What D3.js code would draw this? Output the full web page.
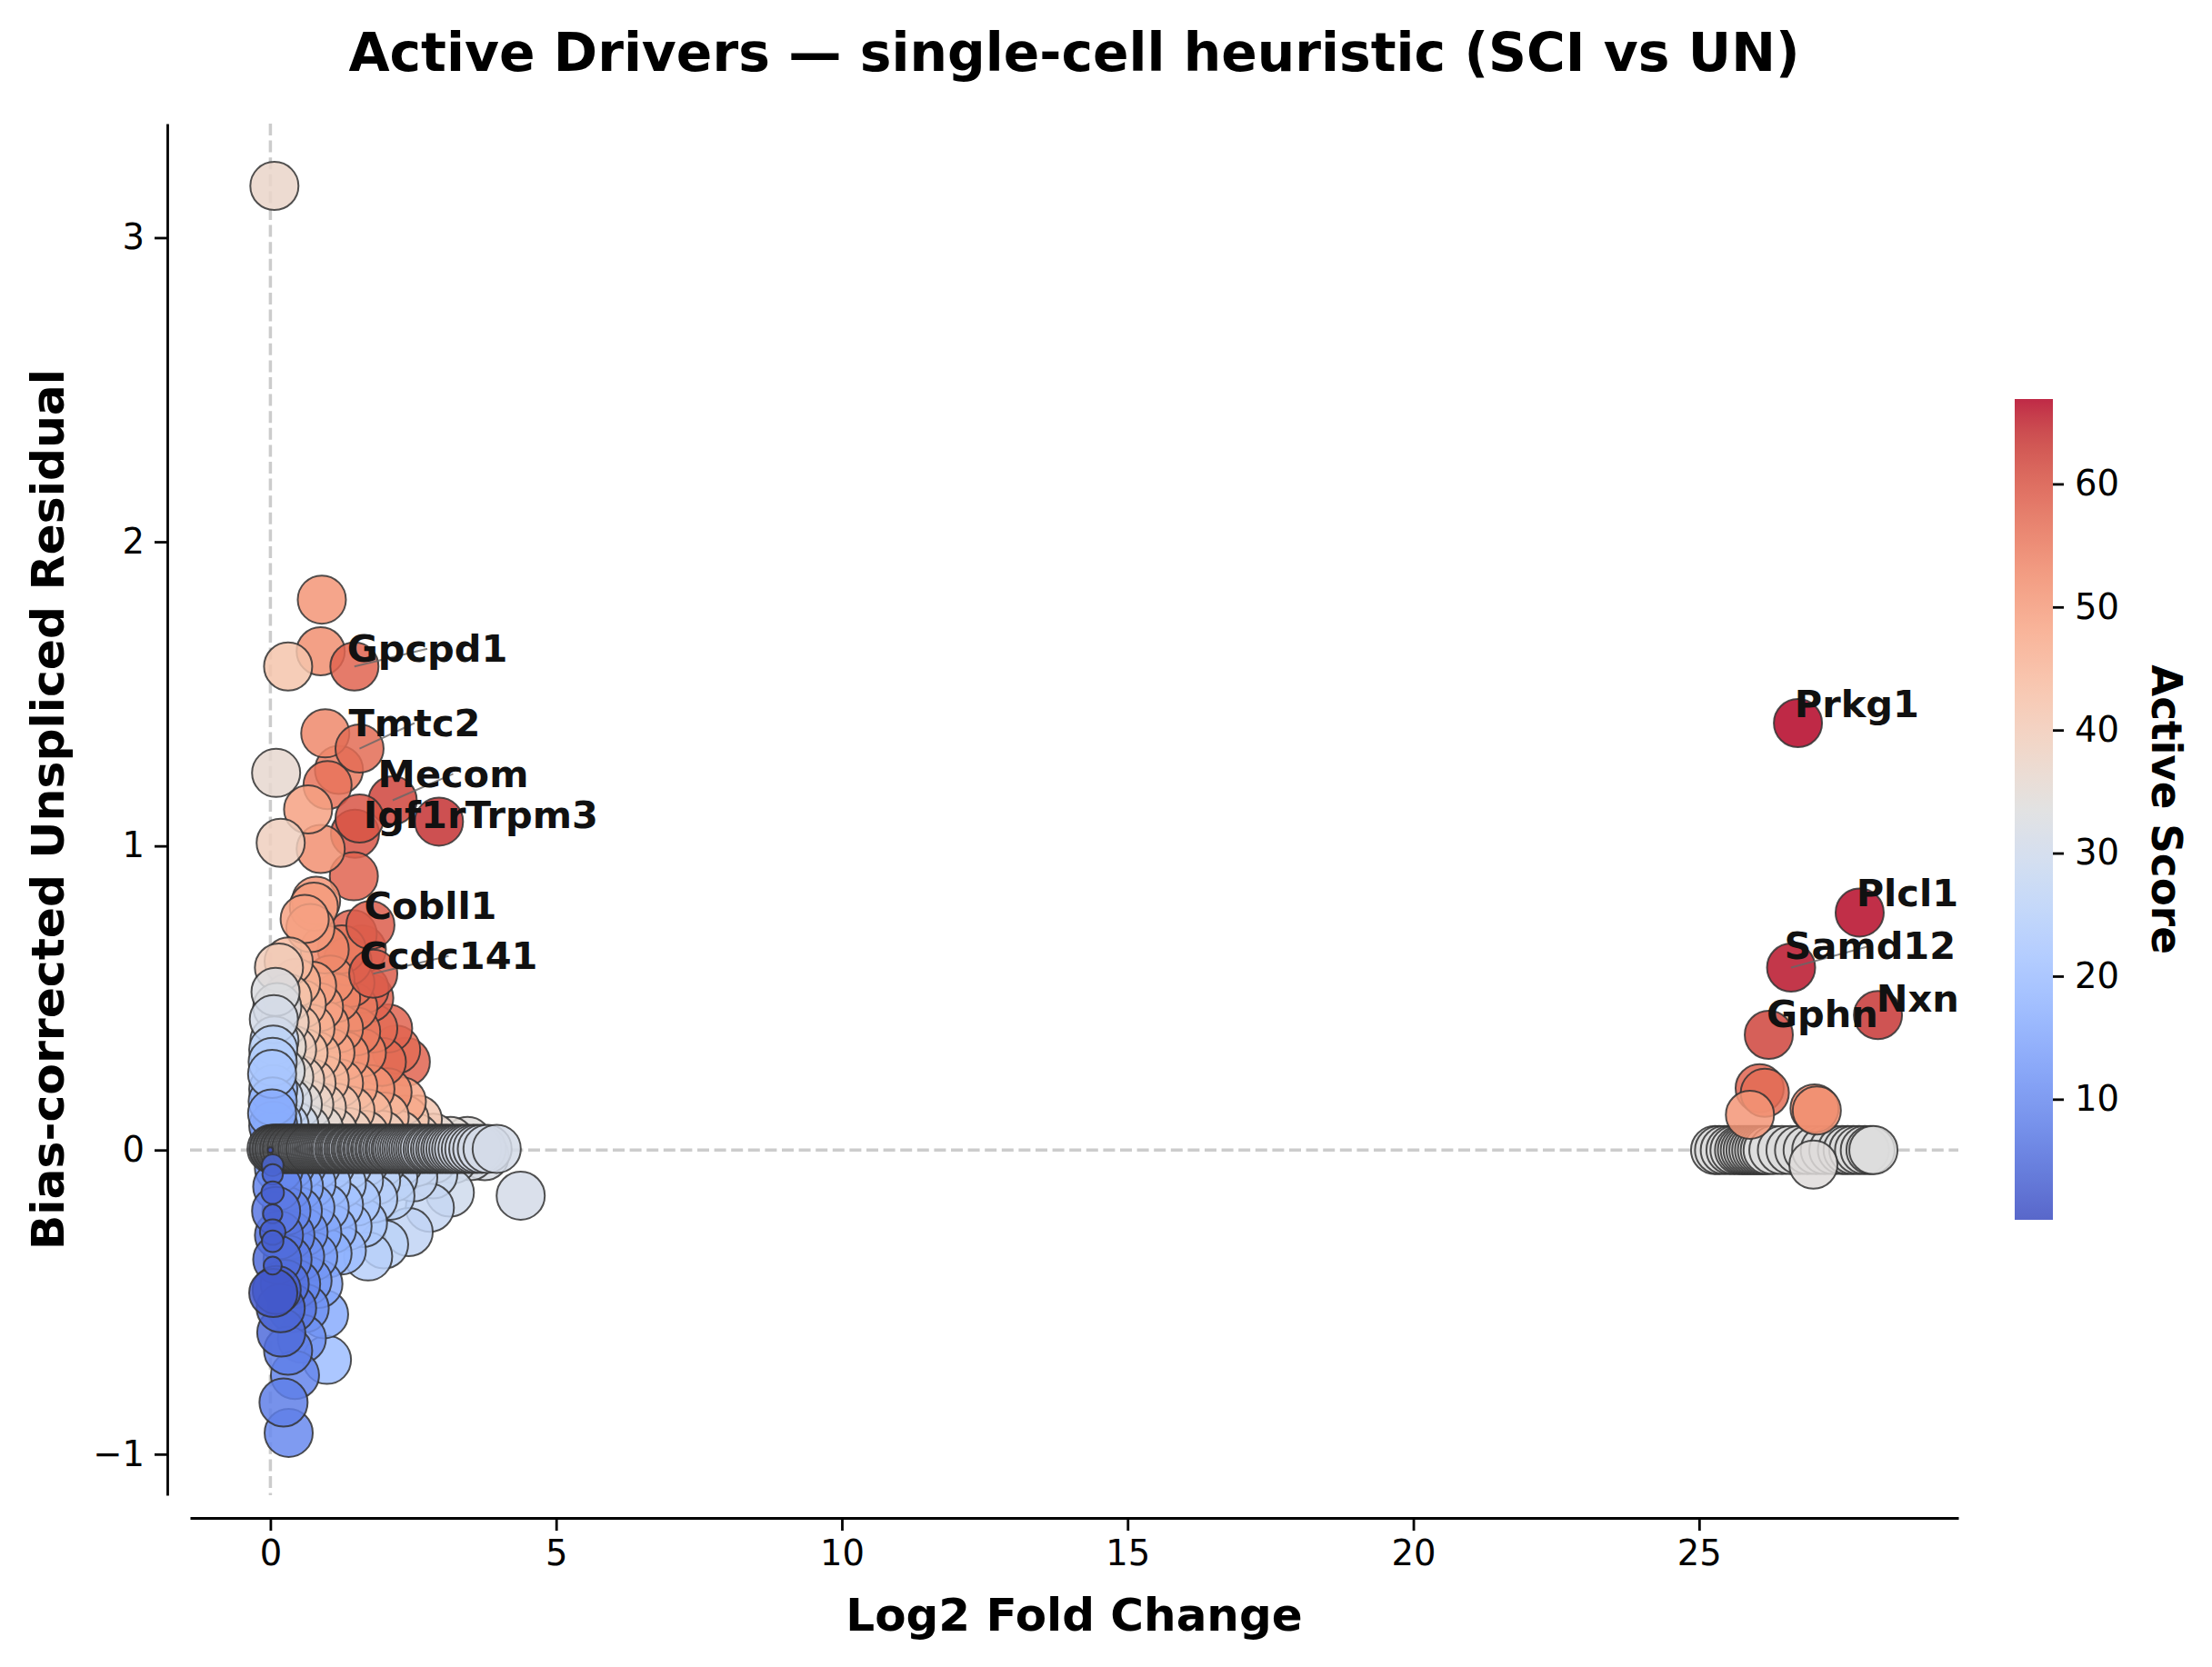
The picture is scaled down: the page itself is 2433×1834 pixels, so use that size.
<!DOCTYPE html>
<html>
<head>
<meta charset="utf-8">
<script src="https://cdn.jsdelivr.net/npm/d3@7"></script>
<style>
  body { margin: 0; background: #fff; }
  text { font-family: "DejaVu Sans", sans-serif; }
</style>
</head>
<body>
<div id="chart"></div>
<script>
// --- data ---
// each point: [log2 fold change, bias-corrected unspliced residual, active score, relative size]

// sparse points high on the left fan
const upperPoints = [
  [0.07, 3.17, 37], [0.90, 1.81, 51], [0.88, 1.64, 52], [0.31, 1.59, 42],
  [0.96, 1.37, 53], [1.20, 1.25, 55], [0.10, 1.24, 36], [1.00, 1.20, 56],
  [0.66, 1.12, 49], [1.48, 1.04, 60], [0.18, 1.01, 39], [0.88, 0.99, 52],
  [1.46, 0.90, 58], [0.80, 0.82, 51], [0.76, 0.80, 50], [0.60, 0.76, 49],
  [0.70, 0.73, 50], [1.44, 0.71, 58], [0.95, 0.66, 53], [1.25, 0.66, 55],
  [1.60, 0.66, 58], [1.35, 0.62, 56]
];

// the dense fan between 0 and 0.65
const midPoints = [
  [0.32, 0.62, 44], [0.15, 0.60, 40], [0.09, 0.52, 33], [0.12, 0.47, 33],
  [0.06, 0.43, 31], [0.07, 0.36, 27], [0.05, 0.33, 26], [0.04, 0.29, 24],
  [0.03, 0.25, 22], [0.05, 0.20, 20], [0.04, 0.16, 18], [0.03, 0.12, 16],
  [0.05, 0.08, 14], [0.08, 0.05, 13],
  [0.45, 0.55, 46], [0.73, 0.54, 49], [1.05, 0.56, 52], [1.40, 0.55, 56], [1.65, 0.53, 58],
  [0.30, 0.50, 42], [0.55, 0.48, 45], [0.85, 0.47, 49], [1.15, 0.50, 53], [1.45, 0.47, 55], [1.73, 0.50, 58],
  [0.25, 0.42, 38], [0.45, 0.40, 42], [0.70, 0.40, 46], [0.95, 0.41, 49], [1.20, 0.40, 52],
  [1.50, 0.39, 55], [1.80, 0.40, 57], [2.06, 0.40, 58],
  [0.20, 0.34, 35], [0.38, 0.33, 39], [0.58, 0.32, 42], [0.80, 0.31, 45], [1.05, 0.32, 48],
  [1.30, 0.31, 51], [1.60, 0.32, 54], [1.95, 0.29, 57], [2.20, 0.33, 57], [2.37, 0.29, 58],
  [0.18, 0.26, 32], [0.33, 0.24, 35], [0.52, 0.23, 38], [0.72, 0.22, 41], [0.95, 0.23, 44],
  [1.20, 0.22, 47], [1.45, 0.21, 49], [1.75, 0.20, 51], [2.05, 0.19, 52], [2.30, 0.16, 48],
  [0.15, 0.17, 28], [0.30, 0.16, 31], [0.48, 0.15, 34], [0.68, 0.15, 37], [0.90, 0.14, 39],
  [1.15, 0.14, 41], [1.40, 0.13, 43], [1.70, 0.12, 44], [2.00, 0.11, 44], [2.35, 0.10, 42], [2.58, 0.10, 41],
  [0.12, 0.09, 24], [0.25, 0.08, 27], [0.42, 0.08, 30], [0.62, 0.07, 33], [0.85, 0.07, 35],
  [1.10, 0.06, 37], [1.35, 0.06, 38], [1.65, 0.05, 39], [1.95, 0.05, 39], [2.25, 0.05, 38],
  [2.55, 0.04, 37], [2.85, 0.04, 36], [3.15, 0.03, 35], [3.45, 0.03, 34]
];

// the fan below zero
const lowerPoints = [
  [0.15, -0.06, 12], [0.35, -0.05, 16], [0.55, -0.05, 19], [0.80, -0.05, 22], [1.05, -0.05, 24],
  [1.35, -0.05, 26], [1.65, -0.04, 27], [1.95, -0.04, 28], [2.25, -0.04, 29], [2.55, -0.04, 30],
  [2.85, -0.03, 31], [3.20, -0.03, 31], [3.50, -0.02, 32], [3.75, -0.02, 32],
  [0.12, -0.12, 9], [0.30, -0.12, 13], [0.50, -0.12, 16], [0.72, -0.11, 19], [0.98, -0.11, 22],
  [1.25, -0.11, 24], [1.55, -0.10, 25], [1.85, -0.10, 26], [2.15, -0.09, 27], [2.50, -0.09, 28], [2.85, -0.08, 29],
  [0.10, -0.20, 7], [0.28, -0.20, 10], [0.48, -0.20, 13], [0.70, -0.19, 16], [0.95, -0.19, 19],
  [1.20, -0.18, 21], [1.50, -0.17, 23], [1.80, -0.16, 25], [2.10, -0.15, 26], [2.79, -0.19, 28],
  [3.14, -0.14, 30], [4.38, -0.15, 31],
  [0.15, -0.28, 6], [0.35, -0.28, 9], [0.58, -0.27, 12], [0.82, -0.27, 15], [1.08, -0.26, 18],
  [1.35, -0.25, 21], [1.62, -0.24, 23], [2.42, -0.27, 27],
  [0.12, -0.36, 5], [0.30, -0.36, 8], [0.52, -0.35, 11], [0.75, -0.35, 14], [1.00, -0.34, 17],
  [1.25, -0.33, 20], [1.71, -0.35, 25], [1.99, -0.31, 26],
  [0.11, -0.46, 3], [0.25, -0.44, 6], [0.45, -0.44, 9], [0.65, -0.43, 12], [0.84, -0.44, 15],
  [0.05, -0.47, 2], [0.18, -0.52, 4], [0.38, -0.52, 7], [0.60, -0.52, 11], [0.94, -0.54, 16],
  [0.19, -0.60, 5], [0.31, -0.66, 8], [0.55, -0.62, 11], [0.99, -0.69, 20], [0.43, -0.74, 9],
  [0.23, -0.83, 8], [0.32, -0.93, 10]
];

// genes sitting right on residual = 0 (left block and right block)
const zeroRowLfc = [
  0.02, 0.05, 0.07, 0.10, 0.12, 0.15, 0.17, 0.20, 0.23, 0.25, 0.28, 0.30, 0.33, 0.36, 0.38,
  0.41, 0.44, 0.46, 0.49, 0.52, 0.55, 0.57, 0.60, 0.63, 0.66, 0.69, 0.71, 0.74, 0.77, 0.80,
  0.83, 0.86, 0.89, 0.92, 0.95, 0.98, 1.01, 1.04, 1.07, 1.10, 1.13, 1.16, 1.20, 1.23, 1.26,
  1.29, 1.32, 1.36, 1.39, 1.42, 1.45, 1.49, 1.52, 1.55, 1.59, 1.62, 1.65, 1.69, 1.72, 1.76,
  1.79, 1.83, 1.86, 1.90, 1.93, 1.97, 2.00, 2.04, 2.08, 2.11, 2.15, 2.19, 2.22, 2.26, 2.30,
  2.34, 2.38, 2.42, 2.46, 2.50, 2.54, 2.58, 2.62, 2.66, 2.70, 2.75, 2.79, 2.83, 2.88, 2.92,
  2.97, 3.01, 3.06, 3.10, 3.15, 3.20, 3.25, 3.30, 3.36, 3.42, 3.48, 3.55, 3.62, 3.70, 3.80, 3.96
];
const zeroRowScore = 31;
const rightRowLfc = [
  25.28, 25.35, 25.45, 25.55, 25.62, 25.70, 25.75, 25.80, 25.85, 25.90, 25.95, 26.00, 26.05,
  26.10, 26.15, 26.20, 26.30, 26.45, 26.60, 26.75, 26.90, 27.05, 27.20, 27.35, 27.50, 27.60,
  27.70, 27.80, 27.90, 28.00, 28.05
];
const rightRowScore = 33.5;

// right block, off the zero line
const rightPoints = [
  [26.06, 0.203, 58], [26.15, 0.188, 57], [25.89, 0.116, 51], [27.02, 0.137, 53],
  [27.06, 0.130, 52], [27.00, -0.048, 34]
];

// small markers near lfc = 0
const smallPoints = [
  [0.04, -0.05, 4, 0.2], [0.04, -0.08, 4, 0.18], [0.04, -0.14, 3, 0.22], [0.04, -0.21, 3, 0.16],
  [0.04, -0.27, 3, 0.28], [0.04, -0.30, 3, 0.2], [0.04, -0.38, 3, 0.14], [0.00, 0.00, 0.2, 0.012]
];

// named drivers: gene, lfc, residual, score
const labeledPoints = [
  ["Gpcpd1", 1.47, 1.59, 58], ["Tmtc2", 1.56, 1.32, 57], ["Mecom", 2.14, 1.15, 62],
  ["Igf1r", 1.56, 1.09, 60], ["Trpm3", 2.95, 1.08, 64], ["Cobll1", 1.75, 0.74, 59],
  ["Ccdc141", 1.80, 0.58, 59], ["Prkg1", 26.73, 1.404, 66.9], ["Plcl1", 27.81, 0.781, 66.5],
  ["Samd12", 26.61, 0.60, 66], ["Nxn", 28.13, 0.444, 63.5], ["Gphn", 26.22, 0.379, 62]
];
// where the label text sits (left edge, middle), in data units
const labelAt = [
  [1.34, 1.648], [1.37, 1.404], [1.88, 1.237], [1.63, 1.103], [3.41, 1.103], [1.64, 0.802],
  [1.56, 0.638], [26.67, 1.466], [27.75, 0.846], [26.49, 0.671], [28.10, 0.498], [26.18, 0.447]
];
const leaderGenes = ["Gpcpd1", "Tmtc2", "Mecom", "Ccdc141", "Samd12"];

const xTicks = [0, 5, 10, 15, 20, 25];
const yTicks = [-1, 0, 1, 2, 3];
const cbarTicks = [10, 20, 30, 40, 50, 60];

// matplotlib coolwarm
const coolwarm = ["#3b4cc0", "#445acc", "#4d68d7", "#5775e1", "#6282ea", "#6c8ef1", "#779af7",
  "#82a5fb", "#8db0fe", "#98b9ff", "#a3c2ff", "#aec9fd", "#b8d0f9", "#c2d5f4", "#ccd9ee",
  "#d5dbe6", "#dddddd", "#e5d8d1", "#ecd3c5", "#f1ccb9", "#f5c4ad", "#f7bba0", "#f7b194",
  "#f7a687", "#f49a7b", "#f18d6f", "#ec7f63", "#e57058", "#de604d", "#d55042", "#cb3e38",
  "#c0282f", "#b40426"];

// --- build the point table ---
const fan = []
  .concat(upperPoints, midPoints, lowerPoints)
  .map(p => ({ lfc: p[0], res: p[1], score: p[2], size: 1 }));
fan.sort((a, b) => b.lfc - a.lfc);

const points = [].concat(
  fan,
  zeroRowLfc.map(v => ({ lfc: v, res: 0.004, score: zeroRowScore, size: 1 })),
  rightRowLfc.map(v => ({ lfc: v, res: 0.0, score: rightRowScore, size: 1 })),
  rightPoints.map(p => ({ lfc: p[0], res: p[1], score: p[2], size: 1 })),
  smallPoints.map(p => ({ lfc: p[0], res: p[1], score: p[2], size: p[3] })),
  labeledPoints.map(p => ({ gene: p[0], lfc: p[1], res: p[2], score: p[3], size: 1 }))
);

// --- layout ---
const W = 2433, H = 1834;
const box = { left: 209, right: 2154, top: 136, bottom: 1645 };
const offset = 25;

const svg = d3.select("#chart").append("svg")
  .attr("width", W).attr("height", H)
  .style("background", "#fff");

// matplotlib-style 5% margins around the data
const xExt = d3.extent(points, d => d.lfc);
const yExt = d3.extent(points, d => d.res);
const xPad = (xExt[1] - xExt[0]) * 0.05;
const yPad = (yExt[1] - yExt[0]) * 0.05;

const x = d3.scaleLinear()
  .domain([xExt[0] - xPad, xExt[1] + xPad])
  .range([box.left, box.right]);
const y = d3.scaleLinear()
  .domain([yExt[0] - yPad, yExt[1] + yPad])
  .range([box.bottom, box.top]);
const r = d3.scaleSqrt().domain([0, 1]).range([0, 26.5]);

const scoreExt = d3.extent(points, d => d.score);
const color = d3.scaleSequential(d3.piecewise(d3.interpolateRgb, coolwarm))
  .domain(scoreExt);

// reference lines
svg.append("line")
  .attr("x1", x(0)).attr("x2", x(0))
  .attr("y1", box.top).attr("y2", box.bottom)
  .attr("stroke", "#cccccc").attr("stroke-width", 3.5)
  .attr("stroke-dasharray", "13,5.6");
svg.append("line")
  .attr("x1", box.left).attr("x2", box.right)
  .attr("y1", y(0)).attr("y2", y(0))
  .attr("stroke", "#cccccc").attr("stroke-width", 3.5)
  .attr("stroke-dasharray", "13,5.6");

// points
svg.append("g")
  .selectAll("circle")
  .data(points)
  .join("circle")
    .attr("cx", d => x(d.lfc))
    .attr("cy", d => y(d.res))
    .attr("r", d => r(d.size))
    .attr("fill", d => color(d.score))
    .attr("fill-opacity", 0.85)
    .attr("stroke", "#333")
    .attr("stroke-opacity", 0.85)
    .attr("stroke-width", 2);

// labels with leader lines
const labels = labeledPoints.map((p, i) => ({
  gene: p[0], lfc: p[1], res: p[2], lx: labelAt[i][0], ly: labelAt[i][1]
}));
const labelFont = 41.5;

const labelG = svg.append("g");
labels.forEach(d => {
  const t = labelG.append("text")
    .attr("x", x(d.lx))
    .attr("y", y(d.ly))
    .attr("dy", "0.35em")
    .attr("font-size", labelFont)
    .attr("font-weight", "bold")
    .attr("fill", "#111")
    .text(d.gene);
  if (leaderGenes.includes(d.gene)) {
    const w = t.node().getComputedTextLength();
    labelG.insert("line", "text")
      .attr("x1", x(d.lfc)).attr("y1", y(d.res))
      .attr("x2", x(d.lx) + w / 2).attr("y2", y(d.ly))
      .attr("stroke", "#666").attr("stroke-opacity", 0.8)
      .attr("stroke-width", 2);
  }
});

// axes (offset spines)
const tickFont = 38.5;
const minus = d => (d < 0 ? "\u2212" + Math.abs(d) : String(d));

const xAxis = svg.append("g")
  .attr("transform", `translate(0,${box.bottom + offset})`)
  .call(d3.axisBottom(x).tickValues(xTicks).tickSize(14).tickSizeOuter(0).tickPadding(11).tickFormat(minus));
const yAxis = svg.append("g")
  .attr("transform", `translate(${box.left - offset},0)`)
  .call(d3.axisLeft(y).tickValues(yTicks).tickSize(14).tickSizeOuter(0).tickPadding(11).tickFormat(minus));

[xAxis, yAxis].forEach(a => {
  a.select(".domain").attr("stroke", "#000").attr("stroke-width", 2.8);
  a.selectAll(".tick line").attr("stroke", "#000").attr("stroke-width", 2.8);
  a.selectAll(".tick text")
    .attr("font-size", tickFont)
    .attr("font-family", "DejaVu Sans")
    .attr("fill", "#000");
});

// titles
const cx = (box.left + box.right) / 2;
svg.append("text")
  .attr("x", cx).attr("y", 78)
  .attr("text-anchor", "middle")
  .attr("font-size", 58.3).attr("font-weight", "bold")
  .text("Active Drivers \u2014 single-cell heuristic (SCI vs UN)");

svg.append("text")
  .attr("x", cx).attr("y", 1794)
  .attr("text-anchor", "middle")
  .attr("font-size", 50).attr("font-weight", "bold")
  .text("Log2 Fold Change");

svg.append("text")
  .attr("transform", `translate(70,${(box.top + box.bottom) / 2}) rotate(-90)`)
  .attr("text-anchor", "middle")
  .attr("font-size", 50.4).attr("font-weight", "bold")
  .text("Bias-corrected Unspliced Residual");

// colorbar
const cbar = { x: 2216, y: 439, w: 42, h: 903 };
const cy = d3.scaleLinear().domain(scoreExt).range([cbar.y + cbar.h, cbar.y]);

const grad = svg.append("defs").append("linearGradient")
  .attr("id", "cw")
  .attr("x1", "0%").attr("y1", "100%")
  .attr("x2", "0%").attr("y2", "0%");
d3.range(0, 1.0001, 0.02).forEach(t => {
  grad.append("stop")
    .attr("offset", `${t * 100}%`)
    .attr("stop-color", color(scoreExt[0] + t * (scoreExt[1] - scoreExt[0])))
    .attr("stop-opacity", 0.85);
});
svg.append("rect")
  .attr("x", cbar.x).attr("y", cbar.y)
  .attr("width", cbar.w).attr("height", cbar.h)
  .attr("fill", "url(#cw)");

const cAxis = svg.append("g")
  .attr("transform", `translate(${cbar.x + cbar.w},0)`)
  .call(d3.axisRight(cy).tickValues(cbarTicks).tickSize(12).tickSizeOuter(0).tickPadding(12));
cAxis.select(".domain").remove();
cAxis.selectAll(".tick line").attr("stroke", "#000").attr("stroke-width", 2.8);
cAxis.selectAll(".tick text")
  .attr("font-size", tickFont)
  .attr("font-family", "DejaVu Sans")
  .attr("fill", "#000");

svg.append("text")
  .attr("transform", `translate(2367,${cbar.y + cbar.h / 2}) rotate(90)`)
  .attr("text-anchor", "middle")
  .attr("font-size", 45.3).attr("font-weight", "bold")
  .text("Active Score");
</script>
</body>
</html>
